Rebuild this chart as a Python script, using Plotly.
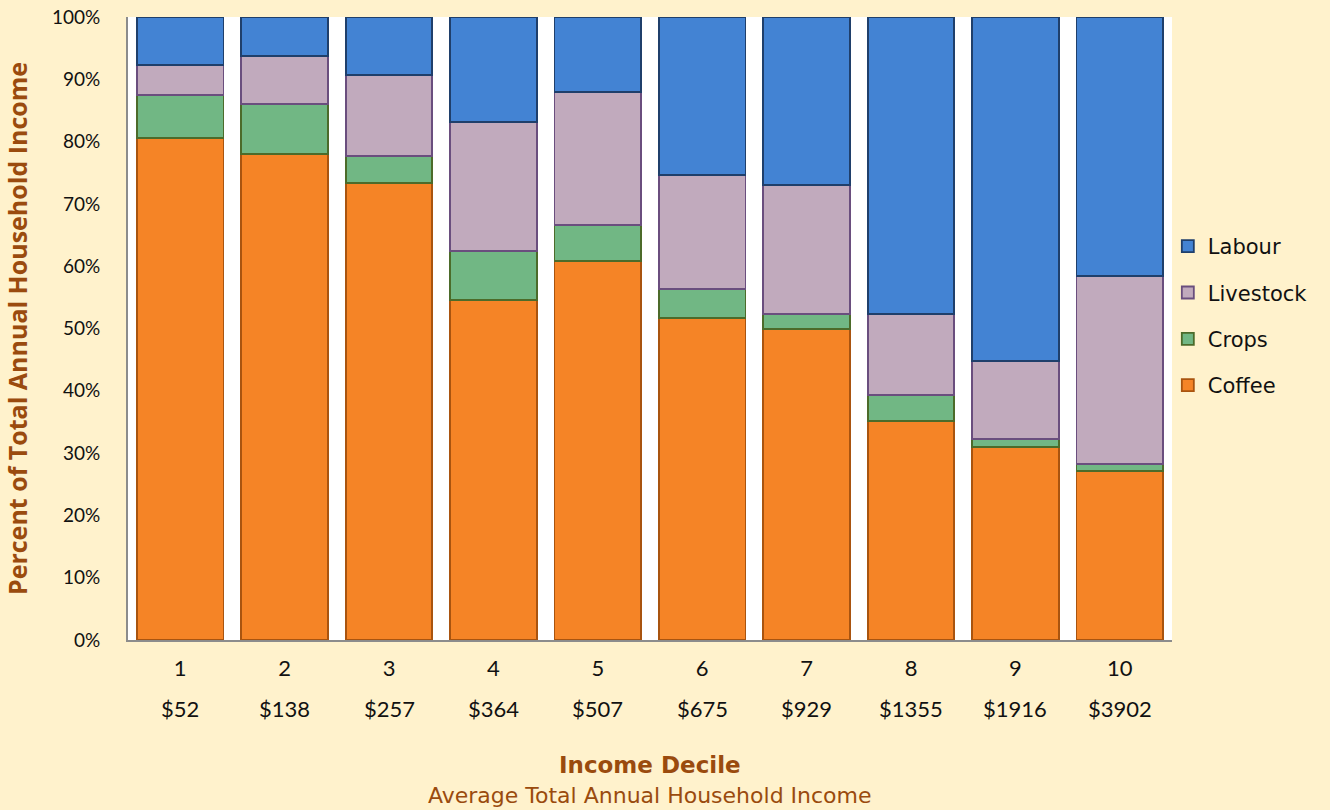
import plotly.graph_objects as go

deciles = ["1", "2", "3", "4", "5", "6", "7", "8", "9", "10"]
incomes = ["$52", "$138", "$257", "$364", "$507", "$675", "$929", "$1355", "$1916", "$3902"]

coffee = [80.6, 78.0, 73.4, 54.6, 60.8, 51.7, 49.9, 35.2, 31.0, 27.1]
crops = [6.9, 8.0, 4.3, 7.8, 5.8, 4.6, 2.4, 4.1, 1.3, 1.1]
livestock = [4.8, 7.7, 13.0, 20.7, 21.4, 18.3, 20.7, 13.0, 12.5, 30.2]
labour = [7.7, 6.3, 9.3, 16.9, 12.0, 25.4, 27.0, 47.7, 55.2, 41.6]

series = [
    ("Coffee", coffee, "#F58426", "#A9540F", 4),
    ("Crops", crops, "#71B784", "#4C6B2A", 3),
    ("Livestock", livestock, "#C1AABD", "#6A4E7E", 2),
    ("Labour", labour, "#4383D3", "#1F3F6B", 1),
]

brown = "#9A4B0E"

fig = go.Figure()
for name, vals, col, line, rank in series:
    fig.add_trace(go.Bar(
        x=deciles, y=[v / 100 for v in vals], name=name, legendgroup=name,
        legendrank=rank,
        marker=dict(color=col, line=dict(color=line, width=1.8)),
    ))

for i, inc in enumerate(incomes):
    fig.add_annotation(x=i, y=0, xref="x", yref="paper", text=inc, showarrow=False,
                       yanchor="middle", yshift=-68,
                       font=dict(family="Lato", size=22, color="#111111"))

fig.add_annotation(x=0.5, y=0, xref="paper", yref="paper", showarrow=False,
                   text="<b>Income Decile</b>", yanchor="middle", yshift=-125,
                   font=dict(family="DejaVu Sans", size=23, color=brown))
fig.add_annotation(x=0.5, y=0, xref="paper", yref="paper", showarrow=False,
                   text="Average Total Annual Household Income", yanchor="middle", yshift=-155,
                   font=dict(family="DejaVu Sans", size=22, color=brown))

fig.update_layout(
    width=1330, height=810,
    barmode="stack", bargap=0.17,
    paper_bgcolor="#FFF2CC", plot_bgcolor="#FFFFFF",
    margin=dict(l=128, r=158, t=17, b=170),
    font=dict(family="Lato", color="#111111"),
    legend=dict(traceorder="grouped", tracegroupgap=16, x=0.996, y=0.52,
                yanchor="middle", xanchor="left", bgcolor="rgba(0,0,0,0)",
                font=dict(family="DejaVu Sans", size=21, color="#111111"),
                itemwidth=30),
    xaxis=dict(showline=True, linecolor="#8C8C8C", linewidth=2, ticks="",
               tickfont=dict(family="Lato", size=22, color="#111111"),
               ticklabelstandoff=8, showgrid=False, automargin=False),
    yaxis=dict(range=[0, 1], dtick=0.1, tickformat=".0%", showline=True,
               linecolor="#8C8C8C", linewidth=2, showgrid=False, ticks="",
               tickfont=dict(family="Lato", size=19, color="#111111"),
               ticklabelstandoff=22, automargin=False,
               title=dict(text="<b>Percent of Total Annual Household Income</b>",
                          font=dict(family="Open Sans", size=25, color=brown), standoff=18)),
)

fig.write_html("out.html", config={"displayModeBar": False},
               post_script="document.body.style.margin='0';document.body.style.padding='0';")
